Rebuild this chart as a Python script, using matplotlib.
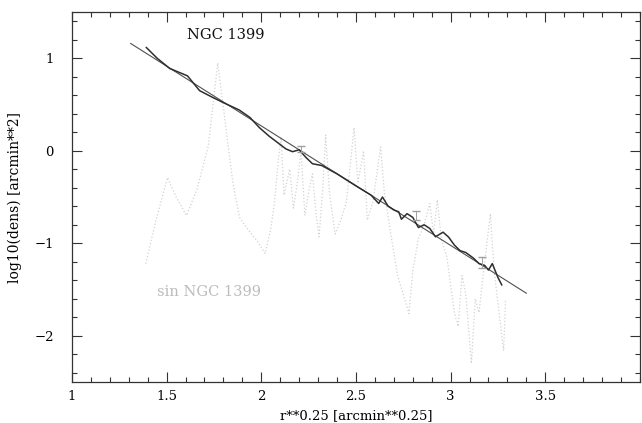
import matplotlib
matplotlib.use('Agg')
import matplotlib.pyplot as plt
import matplotlib.ticker as mtick
import numpy as np

# donnees lues sur la figure
# droite d'ajustement
fit_x = [1.31, 3.40]
fit_y = [1.16, -1.54]

# profil observe (trait fonce)
obs_x = [1.393, 1.45, 1.516, 1.61, 1.674, 1.74, 1.80, 1.884, 1.94, 1.99, 2.04, 2.085,
         2.13, 2.165, 2.20, 2.235, 2.27, 2.32, 2.40, 2.50, 2.58, 2.62, 2.64, 2.67, 2.70,
         2.726, 2.74, 2.77, 2.80, 2.83, 2.86, 2.89, 2.92, 2.96, 2.99, 3.02, 3.05, 3.08,
         3.12, 3.15, 3.18, 3.20, 3.22, 3.25, 3.27]
obs_y = [1.116, 1.00, 0.89, 0.81, 0.65, 0.58, 0.52, 0.44, 0.36, 0.25, 0.16, 0.09,
         0.02, -0.01, 0.01, -0.07, -0.14, -0.16, -0.25, -0.38, -0.48, -0.57, -0.50, -0.60, -0.64,
         -0.66, -0.74, -0.68, -0.72, -0.83, -0.80, -0.84, -0.93, -0.88, -0.935, -1.02, -1.08, -1.10,
         -1.16, -1.22, -1.24, -1.29, -1.22, -1.37, -1.45]

# profil "sin NGC 1399" (pointille gris)
sin_x = [1.39, 1.44, 1.505, 1.55, 1.605, 1.66, 1.72, 1.77, 1.81, 1.85, 1.885, 1.94, 1.98,
         2.02, 2.05, 2.07, 2.09, 2.105, 2.12, 2.15, 2.17, 2.19, 2.21, 2.23, 2.25, 2.27, 2.29,
         2.305, 2.325, 2.34, 2.36, 2.39, 2.42, 2.45, 2.49, 2.51, 2.54, 2.56, 2.59, 2.63, 2.65,
         2.68, 2.72, 2.78, 2.80, 2.83, 2.86, 2.89, 2.91, 2.93, 2.95, 2.98, 3.02, 3.04, 3.06,
         3.08, 3.11, 3.13, 3.15, 3.18, 3.21, 3.23, 3.25, 3.28, 3.29]
sin_y = [-1.22, -0.78, -0.29, -0.50, -0.70, -0.42, 0.05, 0.95, 0.30, -0.35, -0.72, -0.88, -0.98,
         -1.11, -0.85, -0.55, -0.10, 0.15, -0.48, -0.20, -0.62, -0.35, 0.00, -0.70, -0.45, -0.25, -0.70,
         -0.93, -0.40, 0.17, -0.45, -0.90, -0.75, -0.55, 0.25, -0.35, 0.00, -0.75, -0.55, 0.04, -0.45,
         -0.85, -1.35, -1.76, -1.30, -0.95, -0.80, -0.57, -0.90, -0.53, -0.95, -1.15, -1.75, -1.90, -1.35,
         -1.55, -2.30, -1.60, -1.75, -1.20, -0.68, -1.30, -1.65, -2.16, -1.62]

# barres d'erreur
err_x = [2.21, 2.815, 3.165]
err_y = [0.02, -0.70, -1.21]
err_e = [0.03, 0.045, 0.06]

# figure
plt.rcParams['font.family'] = 'DejaVu Serif'
fig = plt.figure(figsize=(6.42, 4.23), dpi=100)
ax = fig.add_axes([0.1121, 0.0969, 0.8847, 0.8747])

ax.plot(sin_x, sin_y, color='#d2d2d2', linewidth=0.9, linestyle=':')
ax.plot(fit_x, fit_y, color='#505050', linewidth=0.8)
ax.plot(obs_x, obs_y, color='#2e2e2e', linewidth=1.1)
ax.errorbar(err_x, err_y, yerr=err_e, fmt='none', ecolor='#a0a0a0', elinewidth=0.7, capsize=3)

ax.text(1.81, 1.25, 'NGC 1399', fontsize=10.5, ha='center', va='center', color='#111111')
ax.text(1.45, -1.53, 'sin NGC 1399', fontsize=10.5, ha='left', va='center', color='#bcbcbc')

ax.set_xlim(1, 4)
ax.set_ylim(-2.5, 1.5)
ax.xaxis.set_major_locator(mtick.FixedLocator([1, 1.5, 2, 2.5, 3, 3.5]))
ax.xaxis.set_minor_locator(mtick.MultipleLocator(0.1))
ax.yaxis.set_major_locator(mtick.MultipleLocator(1))
ax.yaxis.set_minor_locator(mtick.MultipleLocator(0.2))
ax.xaxis.set_major_formatter(mtick.FuncFormatter(lambda v, p: ('%g' % v).replace('-', '\u2212')))
ax.yaxis.set_major_formatter(mtick.FuncFormatter(lambda v, p: ('%g' % v).replace('-', '\u2212')))

ax.tick_params(which='both', direction='in', top=True, right=True, color='#333333', width=0.8)
ax.tick_params(which='major', length=7)
ax.tick_params(which='minor', length=3.5)
ax.tick_params(axis='x', which='major', labelsize=9.5, pad=6)
ax.tick_params(axis='y', which='major', labelsize=9.5, pad=13)
for s in ax.spines.values():
    s.set_color('#333333')
    s.set_linewidth(0.9)

ax.set_xlabel('r**0.25 [arcmin**0.25]', fontsize=9.5, labelpad=4)
ax.set_ylabel('log10(dens) [arcmin**2]', fontsize=10, labelpad=9)

plt.savefig('out.png', dpi=100)
